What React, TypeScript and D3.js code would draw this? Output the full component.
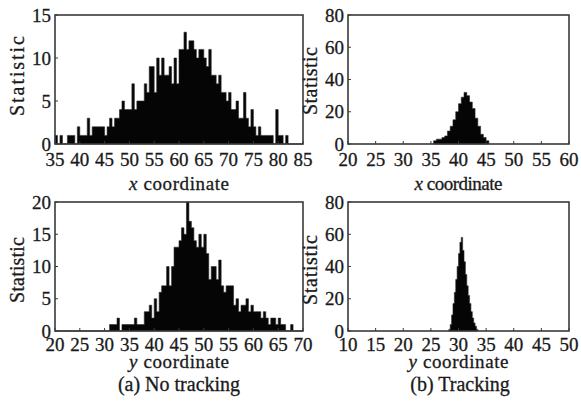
import React from "react";
import * as d3 from "d3";

// counts per bin
const noTrackXStart = 35;
const noTrackXBin = 0.5;
const noTrackXCounts = [
  1, 0, 1, 0, 0, 1, 1, 1, 0, 2,
  1, 1, 1, 3, 1, 2, 2, 2, 2, 2,
  1, 2, 3, 2, 3, 3, 4, 5, 4, 4,
  4, 7, 4, 5, 5, 5, 7, 6, 9, 9,
  6, 10, 8, 10, 8, 8, 9, 7, 10, 7,
  11, 11, 13, 11, 12, 12, 11, 10, 11, 11,
  10, 9, 11, 8, 8, 7, 8, 6, 6, 5,
  6, 4, 4, 5, 3, 3, 6, 3, 2, 4,
  2, 1, 2, 1, 1, 1, 1, 1, 0, 4,
  1, 1, 0, 1, 0, 0, 0, 0, 0, 0
];
const noTrackXTicks = [35, 40, 45, 50, 55, 60, 65, 70, 75, 80, 85];
const noTrackXCountTicks = [0, 5, 10, 15];

const noTrackYStart = 20;
const noTrackYBin = 0.5;
const noTrackYCounts = [
  0, 0, 0, 0, 0, 0, 0, 0, 0, 0,
  0, 0, 0, 0, 0, 0, 0, 0, 0, 0,
  0, 0, 1, 1, 1, 2, 0, 1, 1, 1,
  1, 1, 2, 1, 1, 1, 3, 3, 4, 2,
  5, 3, 6, 7, 7, 10, 7, 10, 13, 13,
  14, 16, 15, 20, 17, 16, 14, 13, 15, 13,
  15, 12, 8, 10, 10, 8, 11, 7, 6, 7,
  7, 7, 4, 5, 3, 4, 4, 5, 3, 4,
  3, 3, 3, 2, 3, 2, 1, 2, 2, 1,
  2, 1, 1, 0, 0, 1, 0, 0, 0, 0
];
const noTrackYTicks = [20, 25, 30, 35, 40, 45, 50, 55, 60, 65, 70];
const noTrackYCountTicks = [0, 5, 10, 15, 20];

const trackXStart = 35.5;
const trackXBin = 0.5;
const trackXCounts = [2, 3, 3, 4, 5, 8, 11, 15, 20, 25, 29, 32, 30, 26, 22, 16, 11, 6, 4, 2];
const trackXTicks = [20, 25, 30, 35, 40, 45, 50, 55, 60];

const trackYStart = 28.25;
const trackYBin = 0.25;
const trackYCounts = [1, 4, 10, 17, 24, 32, 40, 48, 55, 58, 50, 43, 35, 28, 22, 17, 12, 8, 5, 3, 1];
const trackYTicks = [10, 15, 20, 25, 30, 35, 40, 45, 50];
const trackCountTicks = [0, 20, 40, 60, 80];

const FONT = "'Liberation Serif', 'DejaVu Serif', 'Times New Roman', serif";
const INK = "#1a1a1a";
const txt = {
  fontFamily: FONT,
  fill: INK,
  stroke: INK,
  strokeWidth: 0.3
} as React.CSSProperties;

type Box = { left: number; right: number; top: number; bottom: number };

function Histogram(props: {
  box: Box;
  xTicks: number[];
  yTicks: number[];
  start: number;
  bin: number;
  counts: number[];
  axisVar: string;
  tickGap: number;
  labelGap: number;
  xLabelLen: number;
  yLabelLen: number;
  yLabelY: number;
}) {
  const { box, xTicks, yTicks, start, bin, counts, axisVar } = props;
  const x = d3
    .scaleLinear()
    .domain([xTicks[0], xTicks[xTicks.length - 1]])
    .range([box.left, box.right]);
  const y = d3
    .scaleLinear()
    .domain([yTicks[0], yTicks[yTicks.length - 1]])
    .range([box.bottom, box.top]);

  const pts = counts.map((c, i) => ({ x0: start + i * bin, c }));
  pts.push({ x0: start + counts.length * bin, c: counts[counts.length - 1] });

  const area = d3
    .area<{ x0: number; c: number }>()
    .curve(d3.curveStepAfter)
    .x((d) => x(d.x0))
    .y0(y(0))
    .y1((d) => y(d.c));

  const midX = (box.left + box.right) / 2;

  return (
    <g>
      <path d={area(pts) || ""} fill="#050505" stroke="#2a2a2a" strokeWidth={0.6} />
      <rect
        x={box.left}
        y={box.top}
        width={box.right - box.left}
        height={box.bottom - box.top}
        fill="none"
        stroke="#3a3a3a"
        strokeWidth={1.6}
      />
      {xTicks.map((t) => (
        <g key={"x" + t}>
          <line x1={x(t)} x2={x(t)} y1={box.bottom} y2={box.bottom - 3} stroke="#3a3a3a" strokeWidth={1} />
          <text x={x(t)} y={box.bottom + props.tickGap} textAnchor="middle" style={{ ...txt, fontSize: 19 }}>
            {t}
          </text>
        </g>
      ))}
      {yTicks.map((t) => (
        <g key={"y" + t}>
          <line x1={box.left} x2={box.left + 3} y1={y(t)} y2={y(t)} stroke="#3a3a3a" strokeWidth={1} />
          <text x={box.left - 4} y={y(t)} dy="0.35em" textAnchor="end" style={{ ...txt, fontSize: 19 }}>
            {t}
          </text>
        </g>
      ))}
      <text
        x={midX}
        y={box.bottom + props.labelGap}
        textAnchor="middle"
        style={{ ...txt, fontSize: 19 }}
        textLength={props.xLabelLen}
        lengthAdjust="spacing"
      >
        <tspan fontStyle="italic">{axisVar}</tspan> coordinate
      </text>
      <text
        transform={`translate(${box.left - 31},${props.yLabelY}) rotate(-90)`}
        textAnchor="middle"
        style={{ ...txt, fontSize: 20 }}
        textLength={props.yLabelLen}
        lengthAdjust="spacing"
      >
        Statistic
      </text>
    </g>
  );
}

export default function App() {
  const leftCol = { left: 55, right: 303 };
  const rightCol = { left: 348, right: 569 };
  const topRow = { top: 15, bottom: 144 };
  const botRow = { top: 202, bottom: 331 };

  return (
    <div style={{ position: "absolute", left: 0, top: 0, background: "#fff" }}>
      <svg width={581} height={403} style={{ display: "block" }}>
        <rect width={581} height={403} fill="#fff" />
        <Histogram
          box={{ ...leftCol, ...topRow }}
          xTicks={noTrackXTicks}
          yTicks={noTrackXCountTicks}
          start={noTrackXStart}
          bin={noTrackXBin}
          counts={noTrackXCounts}
          axisVar="x"
          tickGap={22}
          labelGap={46}
          xLabelLen={100}
          yLabelLen={80}
          yLabelY={76}
        />
        <Histogram
          box={{ ...rightCol, ...topRow }}
          xTicks={trackXTicks}
          yTicks={trackCountTicks}
          start={trackXStart}
          bin={trackXBin}
          counts={trackXCounts}
          axisVar="x"
          tickGap={22}
          labelGap={46}
          xLabelLen={88}
          yLabelLen={68}
          yLabelY={81}
        />
        <Histogram
          box={{ ...leftCol, ...botRow }}
          xTicks={noTrackYTicks}
          yTicks={noTrackYCountTicks}
          start={noTrackYStart}
          bin={noTrackYBin}
          counts={noTrackYCounts}
          axisVar="y"
          tickGap={20}
          labelGap={37}
          xLabelLen={100}
          yLabelLen={66}
          yLabelY={270}
        />
        <Histogram
          box={{ ...rightCol, ...botRow }}
          xTicks={trackYTicks}
          yTicks={trackCountTicks}
          start={trackYStart}
          bin={trackYBin}
          counts={trackYCounts}
          axisVar="y"
          tickGap={20}
          labelGap={37}
          xLabelLen={100}
          yLabelLen={70}
          yLabelY={270}
        />
        <text x={179} y={391} textAnchor="middle" style={{ ...txt, fontSize: 20 }}>
          (a) No tracking
        </text>
        <text x={460} y={391} textAnchor="middle" style={{ ...txt, fontSize: 20 }}>
          (b) Tracking
        </text>
      </svg>
    </div>
  );
}
